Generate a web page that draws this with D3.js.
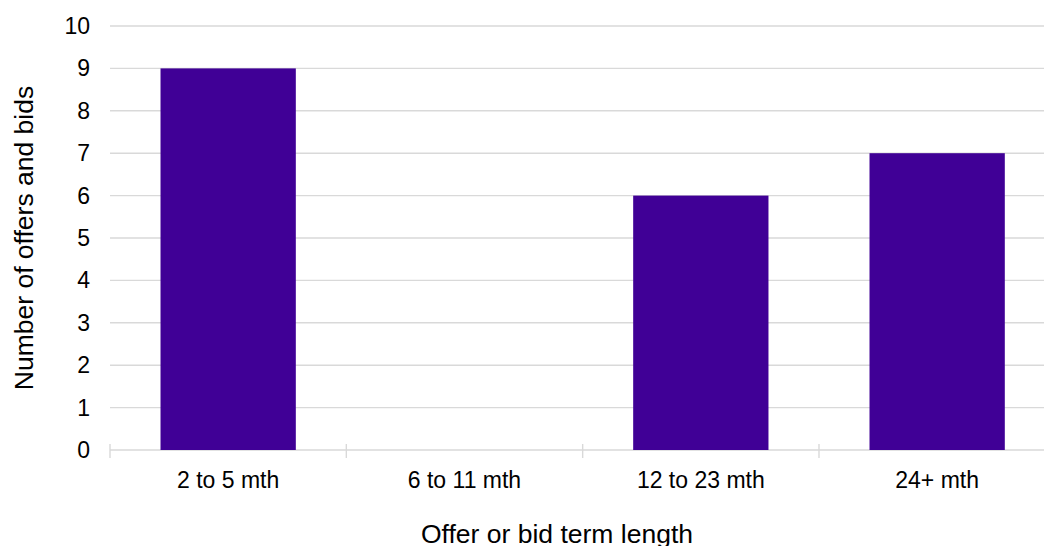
<!DOCTYPE html>
<html>
<head>
<meta charset="utf-8">
<script src="https://cdn.jsdelivr.net/npm/d3@7"></script>
<style>
  html, body { margin: 0; padding: 0; background: #fff; }
  svg { display: block; }
  text { font-family: "Liberation Sans", Arial, sans-serif; fill: #000; }
</style>
</head>
<body>
<svg id="chart" width="1044" height="546"></svg>
<script>
const categories = ["2 to 5 mth", "6 to 11 mth", "12 to 23 mth", "24+ mth"];
const values = [9, 0, 6, 7];
const yTicks = [0, 1, 2, 3, 4, 5, 6, 7, 8, 9, 10];
const xTitle = "Offer or bid term length";
const yTitle = "Number of offers and bids";

const svg = d3.select("#chart");
const plotLeft = 110, step = 236.33;
const plotRight = plotLeft + step * categories.length;
const plotTop = 26, plotBottom = 450;

const x = d3.scaleBand().domain(categories).range([plotLeft, plotRight])
  .paddingInner(0.4275).paddingOuter(0.21375);
const xOuter = d3.scaleBand().domain(categories).range([plotLeft, plotRight]).padding(0);
const y = d3.scaleLinear().domain([0, 10]).range([plotBottom, plotTop]);

// gridlines
svg.append("g").selectAll("line").data(yTicks).join("line")
  .attr("x1", plotLeft).attr("x2", plotRight)
  .attr("y1", d => y(d)).attr("y2", d => y(d))
  .attr("stroke", "#d9d9d9").attr("stroke-width", 1.4);

// category boundary ticks
const bounds = categories.map(c => xOuter(c)).concat([plotRight]);
svg.append("g").selectAll("line").data(bounds).join("line")
  .attr("x1", d => d).attr("x2", d => d)
  .attr("y1", plotBottom - 6).attr("y2", plotBottom + 8)
  .attr("stroke", "#d9d9d9").attr("stroke-width", 1.4);

// bars
svg.append("g").selectAll("rect")
  .data(values.map((v, i) => ({c: categories[i], v})).filter(d => d.v > 0))
  .join("rect")
  .attr("x", d => x(d.c)).attr("width", x.bandwidth())
  .attr("y", d => y(d.v)).attr("height", d => y(0) - y(d.v))
  .attr("fill", "#400096");

// y tick labels
svg.append("g").selectAll("text").data(yTicks).join("text")
  .attr("x", 90).attr("y", d => y(d)).attr("dy", "0.35em")
  .attr("text-anchor", "end").attr("font-size", 23).text(d => d);

// x tick labels
svg.append("g").selectAll("text").data(categories).join("text")
  .attr("x", d => xOuter(d) + xOuter.bandwidth() / 2).attr("y", 488)
  .attr("text-anchor", "middle").attr("font-size", 23).text(d => d);

// axis titles
svg.append("text").attr("x", 557).attr("y", 543)
  .attr("text-anchor", "middle").attr("font-size", 26.5).text(xTitle);
svg.append("text").attr("transform", "translate(33," + ((plotTop + plotBottom) / 2) + ") rotate(-90)")
  .attr("text-anchor", "middle").attr("font-size", 26.5).text(yTitle);
</script>
</body>
</html>
